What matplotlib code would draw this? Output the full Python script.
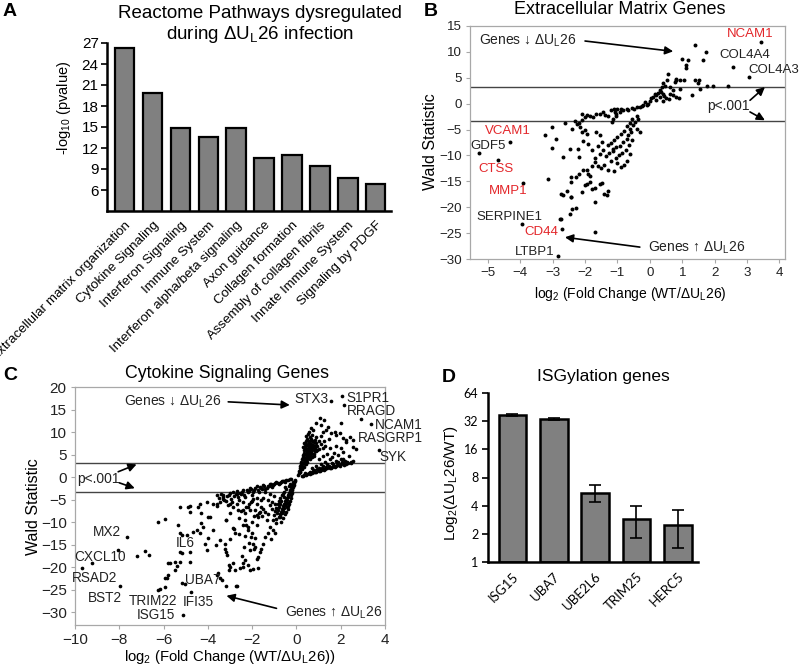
import numpy as np
import matplotlib
matplotlib.use('Agg')
import matplotlib.pyplot as plt

plt.rcParams['font.family'] = ['Liberation Sans', 'DejaVu Sans']
plt.rcParams['mathtext.default'] = 'regular'

RED = '#e3262a'
BARGREY = '#808080'
BOXGREY = '#a8a8a8'

# ---- panel A: reactome pathways
pathways = ['Extracellular matrix organization', 'Cytokine Signaling', 'Interferon Signaling',
            'Immune System', 'Interferon alpha/beta signaling', 'Axon guidance',
            'Collagen formation', 'Assembly of collagen fibrils', 'Innate Immune System',
            'Signaling by PDGF']
pathway_logp = [26.3, 19.8, 14.9, 13.6, 14.9, 10.6, 11.0, 9.5, 7.7, 6.9]

# ---- panel B: extracellular matrix genes (log2 FC, Wald statistic)
ecm_pts = [
    (3.42, 11.9), (2.57, 7.0), (3.07, 5.2), (1.39, 11.3), (1.73, 10.0), (0.98, 8.7), (1.18, 8.4), (1.65, 8.4), (1.11, 7.4), (1.10, 6.8),
    (0.57, 5.8), (0.82, 4.8), (0.80, 4.5), (0.93, 4.5), (1.05, 4.5), (1.39, 4.5), (1.51, 4.5), (1.48, 3.9), (1.75, 3.5), (1.95, 3.35),
    (2.42, 3.4), (1.54, 2.9), (1.29, 1.6), (0.62, 3.2), (0.72, 2.6), (0.93, 2.9), (0.54, 4.6), (0.79, 4.2), (0.41, 3.9), (0.46, 3.5),
    (0.36, 3.2), (0.30, 2.6), (0.35, 2.2), (0.40, 1.9), (0.45, 1.4), (0.50, 1.0), (0.25, 2.0), (0.20, 1.6), (0.15, 1.9), (0.10, 1.3),
    (0.05, 1.0), (0.30, 1.3), (0.20, 0.8), (0.40, 0.6), (0.62, 1.9), (0.72, 1.6), (0.82, 1.3), (0.90, 1.0), (0.60, 0.9), (0.00, 0.5),
    (-0.05, 0.0), (-0.15, 0.3), (-0.20, -0.3), (-0.30, -0.6), (-0.40, -0.6), (-0.50, -1.0), (-0.55, -0.8), (-0.10, -0.2), (-0.25, -0.4), (-0.72, -1.0),
    (-0.67, -1.3), (-0.82, -1.3), (-0.93, -1.6), (-1.01, -1.1), (-1.08, -1.6), (-1.03, -1.9), (-1.10, -1.0), (-1.20, -1.2), (-0.90, -1.1), (-1.18, -3.5),
    (-1.13, -2.9), (-1.65, -1.9), (-1.54, -1.9), (-1.46, -1.7), (-1.85, -2.3), (-1.75, -2.6), (-2.00, -2.6), (-2.10, -3.2), (-2.20, -3.7), (-2.08, -2.0),
    (-1.95, -2.2), (-1.37, -2.1), (-1.29, -2.3), (-1.05, -2.4), (-2.62, -3.7), (-3.03, -4.6), (-3.24, -6.1), (-2.90, -6.9), (-2.16, -4.5), (-2.00, -5.0),
    (-2.10, -5.5), (-1.95, -5.8), (-1.65, -5.5), (-1.54, -6.1), (-2.06, -7.3), (-1.90, -7.7), (-1.60, -8.1), (-1.49, -7.4), (-3.01, -8.6), (-2.47, -8.8),
    (-2.21, -8.8), (-0.62, -4.8), (-0.57, -5.5), (-0.67, -6.1), (-0.72, -6.8), (-0.82, -7.4), (-0.93, -8.1), (-1.03, -8.4), (-1.13, -8.7), (-0.41, -2.3),
    (-0.36, -2.9), (-0.46, -3.5), (-0.51, -4.2), (-0.41, -4.8), (-0.31, -5.5), (-0.55, -3.0), (-0.60, -3.8), (-0.70, -4.4), (-0.80, -5.2), (-0.90, -5.8),
    (-1.00, -6.5), (-1.10, -7.0), (-1.20, -7.6), (-1.30, -8.0), (-0.75, -9.0), (-0.85, -9.5), (-0.95, -10.0), (-1.05, -10.5), (-1.15, -9.2), (-1.25, -9.6),
    (-1.35, -10.1), (-0.65, -8.0), (-0.55, -7.0), (-0.60, -9.7), (-0.70, -11.0), (-0.80, -11.8), (-0.90, -12.2), (-1.00, -11.5), (-1.20, -11.0), (-1.40, -11.8),
    (-1.50, -12.5), (-1.60, -12.0), (-1.70, -11.3), (-1.30, -12.8), (-1.10, -13.0), (-1.45, -9.0), (-1.55, -9.8), (-1.70, -10.5), (-1.80, -9.0), (-2.67, -10.3),
    (-2.18, -10.3), (-3.14, -14.6), (-2.42, -14.2), (-2.18, -13.5), (-2.06, -12.9), (-1.95, -12.9), (-1.80, -12.0), (-1.90, -13.5), (-1.85, -13.9), (-2.00, -15.8),
    (-1.95, -15.5), (-1.85, -15.2), (-1.70, -16.2), (-1.55, -15.6), (-1.48, -15.4), (-1.30, -16.8), (-1.40, -17.4), (-1.80, -16.5), (-2.10, -17.0), (-2.67, -17.6),
    (-2.42, -18.0), (-1.68, -18.9), (-1.33, -17.7), (-2.29, -20.2), (-2.45, -21.3), (-2.76, -22.3), (-2.70, -24.3), (-1.68, -24.7), (-2.85, -29.4), (-3.96, -23.2),
    (-4.32, -7.5), (-4.68, -10.8), (-3.91, -15.3), (-5.27, -9.5), (-2.73, -17.4), (-2.55, -16.8), (-2.44, -18.1), (-2.39, -20.3), (-2.28, -14.2), (-2.42, -15.2),
    (-2.73, -22.3), (-2.30, -3.3), (-2.25, -4.0), (-2.40, -4.8),
]
ecm_names = ['NCAM1', 'COL4A4', 'COL4A3', 'VCAM1', 'GDF5', 'CTSS', 'MMP1', 'SERPINE1', 'CD44', 'LTBP1']
ecm_red = [True, False, False, True, False, True, True, False, True, False]

# ---- panel C: cytokine signaling genes
cyto_pts = [
    (1.58, 17.0), (2.08, 18.1), (2.15, 16.1), (2.93, 12.9), (3.35, 11.8), (3.73, 6.2), (2.56, 8.3), (2.70, 6.4), (2.03, 12.0),
    (0.90, 12.1), (1.05, 13.1), (1.23, 12.7), (1.13, 11.6), (1.80, 9.4), (2.10, 8.7), (2.26, 7.9), (2.40, 9.0), (1.35, 10.5), (1.58, 9.8), (1.73, 10.1),
    (1.43, 11.3), (1.95, 9.8), (2.26, 8.3), (2.56, 6.8), (2.38, 4.7), (2.10, 4.2), (2.48, 3.1),
    (0.05, 0.5), (0.10, 1.0), (0.12, 1.5), (0.15, 2.0), (0.18, 2.5), (0.20, 3.0), (0.22, 3.5), (0.25, 4.0), (0.28, 4.5), (0.30, 5.0),
    (0.32, 5.5), (0.35, 6.0), (0.38, 6.5), (0.40, 7.0), (0.42, 7.5), (0.45, 8.0), (0.50, 8.5),
    (0.15, 1.2), (0.20, 1.8), (0.25, 2.6), (0.30, 3.2), (0.35, 3.8), (0.40, 4.4), (0.45, 5.0), (0.50, 5.6), (0.55, 6.2), (0.60, 6.8),
    (0.65, 7.4), (0.70, 8.0), (0.40, 3.0), (0.45, 3.6), (0.50, 4.2), (0.55, 4.8), (0.60, 5.4), (0.65, 6.0), (0.70, 6.6), (0.75, 7.2),
    (0.80, 7.8), (0.85, 8.4), (0.50, 3.4), (0.60, 4.0), (0.70, 4.6), (0.80, 5.2), (0.90, 5.8), (1.00, 6.4), (0.55, 7.7), (0.60, 8.9),
    (0.70, 9.5), (0.90, 9.0), (1.00, 8.2), (0.95, 7.0), (1.10, 7.5), (1.20, 6.6), (0.85, 6.5), (0.30, 6.8), (0.35, 7.6), (0.45, 9.2),
    (0.55, 10.0), (0.75, 10.5), (0.65, 11.0),
    (0.22, 2.2), (0.28, 3.3), (0.33, 4.2), (0.38, 5.2), (0.43, 6.2), (0.48, 7.2), (0.52, 6.6), (0.58, 7.3), (0.62, 5.9), (0.68, 6.3),
    (0.72, 7.0), (0.78, 6.1), (0.82, 6.9), (0.88, 7.6), (0.92, 6.2), (0.48, 4.6), (0.53, 5.3), (0.58, 4.4), (0.63, 5.0), (0.68, 5.6),
    (0.73, 5.1), (0.78, 4.8), (0.83, 5.8), (0.38, 3.4), (0.43, 2.9), (0.32, 2.4), (0.27, 1.8), (0.18, 1.1), (0.57, 8.2), (0.66, 8.6),
    (0.76, 8.1), (0.52, 9.6),
    (0.30, 0.4), (0.50, 0.7), (0.70, 1.0), (0.90, 1.3), (1.10, 1.6), (1.30, 1.9), (1.50, 2.2), (1.70, 2.5), (1.90, 2.8), (2.10, 3.1),
    (2.30, 3.4), (0.40, 0.9), (0.60, 1.3), (0.80, 1.7), (1.00, 2.1), (1.20, 2.5), (1.40, 2.9), (1.60, 3.3), (1.80, 3.7), (2.00, 4.1),
    (0.60, 0.8), (0.80, 1.2), (1.00, 1.5), (1.20, 1.8), (1.40, 2.0), (1.60, 2.4), (1.80, 2.6), (2.00, 3.0),
    (0.25, 0.3), (0.35, 0.55), (0.45, 0.6), (0.55, 1.0), (0.65, 0.95), (0.75, 1.4), (0.85, 1.15), (0.95, 1.8), (1.05, 1.35), (1.15, 2.2),
    (1.25, 1.7), (1.35, 2.4), (1.45, 2.6), (1.55, 2.05), (1.65, 2.9), (1.75, 2.3), (1.85, 3.2), (1.95, 2.55), (2.05, 3.5), (2.15, 2.85),
    (2.25, 3.0), (2.35, 3.25), (2.45, 3.45), (2.55, 3.6), (2.20, 3.7), (1.90, 3.4),
    (0.70, 2.0), (0.90, 2.5), (1.10, 3.0), (1.30, 3.5), (1.50, 4.0), (1.00, 4.2), (1.20, 4.8), (1.40, 5.2), (1.60, 4.6), (1.70, 5.5),
    (1.90, 5.0), (2.10, 5.6), (1.50, 6.5), (1.30, 7.0), (1.80, 7.0), (2.00, 6.5), (1.25, 8.0), (1.45, 8.5), (1.10, 9.2), (1.20, 10.0),
    (-0.30, -0.35), (-0.60, -0.70), (-0.90, -1.00), (-1.20, -1.35), (-1.50, -1.70), (-1.80, -2.00), (-2.10, -2.40), (-2.40, -2.70),
    (-2.70, -3.10), (-3.00, -3.40), (-3.30, -3.80),
    (-0.40, -0.60), (-0.70, -1.05), (-1.00, -1.50), (-1.30, -1.95), (-1.60, -2.40), (-1.90, -2.85), (-2.20, -3.30), (-2.50, -3.75), (-2.80, -4.20),
    (-0.50, -0.95), (-0.80, -1.50), (-1.10, -2.10), (-1.40, -2.65), (-1.70, -3.20), (-2.00, -3.80), (-2.30, -4.40), (-2.60, -5.00), (-2.90, -5.50),
    (-0.25, -0.4), (-0.45, -0.65), (-0.55, -0.85), (-0.65, -0.9), (-0.75, -1.2), (-0.85, -1.3), (-0.95, -1.25), (-1.05, -1.7), (-1.15, -1.45),
    (-1.25, -1.8), (-1.35, -2.3), (-1.45, -1.9), (-1.55, -2.6), (-1.65, -2.1), (-1.75, -2.75), (-1.85, -2.35), (-1.95, -3.3), (-2.05, -2.6),
    (-2.15, -3.0), (-2.25, -2.8), (-2.35, -3.9), (-2.45, -3.2), (-2.55, -3.4), (-2.65, -4.4), (-2.75, -3.6), (-2.85, -3.3), (-2.95, -4.7),
    (-3.05, -3.8), (-3.15, -4.2), (-3.40, -3.6), (-3.60, -4.0), (-3.20, -5.3),
    (-3.50, -4.5), (-3.60, -5.8), (-3.30, -4.9), (-3.10, -6.2), (-2.70, -6.0), (-2.40, -5.5), (-2.20, -6.5), (-2.00, -5.2), (-1.80, -4.5), (-1.60, -5.0),
    (-2.50, -7.5), (-2.30, -8.0), (-2.10, -7.2), (-1.90, -8.5), (-2.60, -9.0), (-2.00, -9.8), (-1.80, -10.5), (-2.40, -10.6), (-2.20, -11.0), (-3.00, -8.0),
    (-3.20, -9.5), (-2.80, -11.5), (-2.60, -12.5), (-2.30, -13.0), (-2.00, -12.3), (-1.85, -13.5), (-2.15, -14.5), (-2.35, -15.5), (-1.90, -16.0), (-2.45, -17.5),
    (-2.33, -18.4),
    (-0.05, -0.5), (-0.10, -1.0), (-0.12, -1.6), (-0.15, -2.2), (-0.18, -2.8), (-0.20, -3.4), (-0.23, -4.0), (-0.26, -4.6), (-0.30, -5.2), (-0.33, -5.8),
    (-0.36, -6.4), (-0.40, -7.0), (-0.45, -7.6), (-0.50, -8.2),
    (-0.15, -1.0), (-0.20, -1.6), (-0.25, -2.2), (-0.30, -2.8), (-0.35, -3.4), (-0.40, -4.0), (-0.45, -4.6), (-0.50, -5.2), (-0.55, -5.8), (-0.60, -6.4),
    (-0.65, -7.0), (-0.70, -7.6), (-0.75, -8.2), (-0.80, -8.8),
    (-0.08, -0.8), (-0.13, -1.3), (-0.17, -1.9), (-0.22, -2.5), (-0.27, -3.1), (-0.32, -3.7), (-0.38, -4.3), (-0.42, -5.0), (-0.47, -5.6), (-0.52, -6.2),
    (-0.57, -6.8), (-0.62, -7.4), (-0.67, -8.0), (-0.72, -8.6), (-0.38, -5.6), (-0.44, -6.6), (-0.58, -4.4), (-0.62, -3.6), (-0.68, -5.2), (-0.72, -5.9),
    (-0.78, -6.6), (-0.83, -7.2), (-0.88, -8.0), (-0.50, -2.2),
    (-0.30, -1.5), (-0.35, -2.0), (-0.45, -2.6), (-0.55, -3.3), (-0.65, -4.0), (-0.75, -4.6), (-0.80, -5.3), (-0.85, -6.0), (-0.90, -6.8), (-0.95, -7.5),
    (-1.00, -8.3), (-0.90, -9.2), (-0.60, -9.0), (-0.70, -9.8), (-1.05, -9.5),
    (-1.35, -9.5), (-1.20, -11.0), (-1.28, -12.4), (-1.43, -13.2), (-1.50, -14.7), (-1.58, -15.8), (-1.65, -16.5), (-1.73, -17.6), (-1.80, -18.2),
    (-1.05, -11.7), (-0.90, -10.2), (-0.75, -8.7), (-1.13, -13.6), (-0.98, -12.4), (-1.95, -14.7), (-2.03, -13.2), (-2.18, -11.7), (-2.26, -10.6),
    (-2.33, -9.5), (-2.10, -16.1), (-1.88, -15.4),
    (-1.80, -6.0), (-1.60, -6.5), (-1.50, -7.0), (-1.40, -7.6), (-1.30, -8.2), (-1.70, -7.8), (-1.55, -8.6), (-1.20, -6.2), (-1.10, -5.5), (-1.30, -5.0),
    (-1.50, -4.5), (-1.00, -4.2), (-1.20, -3.6), (-1.40, -3.3), (-1.10, -7.0), (-0.95, -6.0),
    (-7.64, -13.3), (-7.22, -17.5), (-6.84, -16.4), (-6.65, -17.3), (-8.05, -16.1), (-9.25, -19.1), (-9.70, -20.2), (-7.97, -24.1),
    (-6.24, -9.9), (-5.94, -9.3), (-5.34, -10.6), (-4.81, -7.6), (-4.89, -6.5), (-4.44, -6.5), (-4.06, -5.4), (-4.29, -8.0), (-3.91, -8.7), (-4.29, -10.2),
    (-5.26, -12.4), (-4.96, -12.8), (-4.36, -12.4), (-4.00, -13.4), (-4.14, -14.9), (-4.06, -16.2),
    (-3.23, -14.7), (-3.23, -15.8), (-3.16, -16.5), (-3.13, -17.3), (-3.04, -19.5), (-3.04, -20.6),
    (-5.79, -19.1), (-5.49, -18.7), (-5.26, -18.7), (-5.41, -19.7), (-5.79, -21.6), (-5.94, -22.4), (-5.19, -23.4), (-5.04, -23.6), (-4.74, -25.4),
    (-6.17, -24.7), (-5.94, -24.4), (-5.14, -30.6),
    (-3.58, -21.7), (-3.38, -22.8), (-3.16, -24.1), (-2.71, -24.1),
    (-2.56, -20.2), (-2.41, -19.9), (-2.11, -20.6), (-1.95, -20.4), (-1.73, -20.2),
    (-5.26, -6.5), (-4.81, -6.4), (-4.36, -5.8), (-3.30, -4.3), (-3.28, -5.0), (-3.00, -5.8), (-2.70, -3.6),
    (-3.98, -8.7), (-4.21, -11.0), (-3.76, -11.7), (-3.16, -9.5), (-2.86, -11.3), (-2.78, -12.4), (-3.00, -13.6), (-3.61, -15.0), (-3.46, -13.9),
    (-2.86, -19.1), (-3.00, -20.0), (-2.78, -20.6), (-2.40, -19.1), (-2.18, -19.5),
    (-5.19, -12.8), (-4.66, -12.1), (-4.51, -11.7), (-5.26, -16.5), (-5.19, -16.7), (-4.81, -16.5), (-4.81, -18.7), (-5.71, -19.1), (-5.49, -20.6),
    (-5.86, -22.4), (-6.24, -25.0), (-3.53, -21.3), (-3.46, -22.4), (-2.68, -24.1),
    (-3.76, -5.8), (-3.60, -6.3), (-3.46, -5.4), (-2.86, -6.5), (-2.63, -7.3), (-2.41, -7.3), (-2.26, -6.5), (-2.14, -5.9), (-2.03, -5.4),
    (-1.95, -4.7), (-1.88, -7.3), (-1.80, -8.4), (-1.73, -8.8), (-1.65, -7.7),
]
cyto_names = ['STX3', 'S1PR1', 'RRAGD', 'NCAM1', 'RASGRP1', 'SYK', 'MX2', 'IL6', 'CXCL10',
              'RSAD2', 'UBA7', 'BST2', 'TRIM22', 'IFI35', 'ISG15']

# ---- panel D: ISGylation genes
isg_genes = ['ISG15', 'UBA7', 'UBE2L6', 'TRIM25', 'HERC5']
isg_fold = [37.0, 33.5, 5.5, 2.9, 2.5]
isg_low = [36.0, 32.7, 4.4, 1.8, 1.4]
isg_high = [38.0, 34.3, 6.6, 3.95, 3.6]


def fx(px):
    return px / 800.0


def fy(py):
    return 1 - py / 668.0


fig = plt.figure(figsize=(8, 6.68), dpi=100)

# ================= A
axA = fig.add_axes([fx(107), fy(211), 284 / 800, 168 / 668])
axA.bar(range(len(pathways)), pathway_logp, width=0.7, color=BARGREY, edgecolor='black', linewidth=1.6)
axA.set_xlim(-0.63, 9.55)
axA.set_ylim(3, 27)
axA.set_yticks(range(6, 28, 3))
axA.set_xticks(range(len(pathways)))
axA.set_xticklabels(pathways, rotation=45, ha='right', rotation_mode='anchor', fontsize=9.6)
axA.tick_params(axis='x', length=0, pad=6)
axA.tick_params(axis='y', length=4, width=1.2, labelsize=11, pad=2)
for s in ['top', 'right']:
    axA.spines[s].set_visible(False)
for s in ['left', 'bottom']:
    axA.spines[s].set_linewidth(1.8)
fig.text(fx(260), fy(25), 'Reactome Pathways dysregulated\nduring ΔU$_L$26 infection',
         ha='center', va='center', fontsize=13.5, linespacing=1.1)
fig.text(fx(64), fy(108), '-log$_{10}$ (pvalue)', rotation=90, ha='center', va='center', fontsize=10.5)
fig.text(fx(3), fy(12), 'A', fontsize=14, fontweight='bold', ha='left', va='center')

# ================= B
axB = fig.add_axes([fx(470), fy(259), 315 / 800, 233 / 668])
bx, by = np.array(ecm_pts).T
axB.scatter(bx, by, s=8, c='black', linewidths=0, zorder=3)
axB.set_xlim(-5.55, 4.17)
axB.set_ylim(-30, 15)
axB.set_xticks(range(-5, 5))
axB.set_yticks(range(-30, 16, 5))
axB.axhline(3.3, color='#444444', lw=1.0)
axB.axhline(-3.3, color='#444444', lw=1.0)
for s in axB.spines.values():
    s.set_color(BOXGREY)
    s.set_linewidth(0.9)
axB.tick_params(length=3, color=BOXGREY, labelsize=9.6, labelcolor='#222222', pad=3)

b_label_pos = [(3.09, 13.4), (2.93, 9.4), (3.81, 6.5), (-4.37, -5.2), (-4.99, -8.1),
               (-4.75, -12.6), (-4.37, -16.8), (-4.32, -21.9), (-3.34, -24.8), (-3.55, -28.6)]
for name, (lx, ly), red in zip(ecm_names, b_label_pos, ecm_red):
    axB.text(lx, ly, name, ha='center', va='center', fontsize=9.5,
             color=RED if red else '#222222')

arrow = dict(arrowstyle='-|>', color='black', lw=1.2, mutation_scale=12, shrinkA=0, shrinkB=0)
axB.text(-2.26, 12.1, 'Genes ↓ ΔU$_L$26', ha='right', va='center', fontsize=10, color='#222222')
axB.annotate('', xy=(0.72, 10.1), xytext=(-2.0, 12.1), arrowprops=arrow)
axB.text(-0.05, -27.9, 'Genes ↑ ΔU$_L$26', ha='left', va='center', fontsize=10, color='#222222')
axB.annotate('', xy=(-2.62, -25.8), xytext=(-0.31, -27.7), arrowprops=arrow)
axB.text(2.42, -0.45, 'p<.001', ha='center', va='center', fontsize=10, color='#222222')
axB.annotate('', xy=(3.55, 3.2), xytext=(3.09, 0.65), arrowprops=arrow)
axB.annotate('', xy=(3.55, -3.2), xytext=(3.09, -1.6), arrowprops=arrow)

fig.text(fx(620), fy(10), 'Extracellular Matrix Genes', ha='center', va='center', fontsize=13)
fig.text(fx(431), fy(142), 'Wald Statistic', rotation=90, ha='center', va='center', fontsize=11.5)
fig.text(fx(630), fy(294), 'log$_2$ (Fold Change (WT/ΔU$_L$26)', ha='center', va='center', fontsize=10)
fig.text(fx(424), fy(11), 'B', fontsize=14, fontweight='bold', ha='left', va='center')

# ================= C
axC = fig.add_axes([fx(75), fy(625), 310 / 800, 238 / 668])
cx, cy = np.array(cyto_pts).T
axC.scatter(cx, cy, s=7, c='black', linewidths=0, zorder=3)
axC.set_xlim(-10, 4)
axC.set_ylim(-32.8, 20.1)
axC.set_xticks(range(-10, 5, 2))
axC.set_yticks(range(-30, 21, 5))
axC.axhline(3.3, color='#444444', lw=1.0)
axC.axhline(-3.3, color='#444444', lw=1.0)
for s in axC.spines.values():
    s.set_color(BOXGREY)
    s.set_linewidth(0.9)
axC.tick_params(length=3, color=BOXGREY, labelsize=11, labelcolor='#222222', pad=3)

c_label_pos = [(1.43, 17.5, 'right'), (2.26, 17.6, 'left'), (2.30, 14.7, 'left'), (3.53, 11.6, 'left'),
               (2.78, 8.7, 'left'), (3.76, 4.6, 'left'), (-8.54, -12.2, 'center'), (-5.0, -14.5, 'center'),
               (-8.87, -17.6, 'center'), (-9.1, -22.4, 'center'), (-4.21, -22.7, 'center'),
               (-8.65, -26.7, 'center'), (-6.47, -27.4, 'center'), (-4.41, -27.6, 'center'),
               (-6.36, -30.5, 'center')]
for name, (lx, ly, ha) in zip(cyto_names, c_label_pos):
    axC.text(lx, ly, name, ha=ha, va='center', fontsize=9.8, color='#222222')

axC.text(-3.38, 16.8, 'Genes ↓ ΔU$_L$26', ha='right', va='center', fontsize=10, color='#222222')
axC.annotate('', xy=(-0.3, 16.1), xytext=(-3.08, 16.8), arrowprops=arrow)
axC.text(-0.53, -30.1, 'Genes ↑ ΔU$_L$26', ha='left', va='center', fontsize=10, color='#222222')
axC.annotate('', xy=(-3.16, -26.3), xytext=(-0.9, -29.1), arrowprops=arrow)
axC.text(-8.95, -0.4, 'p<.001', ha='center', va='center', fontsize=10, color='#222222')
axC.annotate('', xy=(-7.22, 2.9), xytext=(-8.05, 1.26), arrowprops=arrow)
axC.annotate('', xy=(-7.3, -2.4), xytext=(-8.0, -1.2), arrowprops=arrow)

fig.text(fx(227), fy(373), 'Cytokine Signaling Genes', ha='center', va='center', fontsize=12.8)
fig.text(fx(34), fy(507), 'Wald Statistic', rotation=90, ha='center', va='center', fontsize=11.5)
fig.text(fx(230), fy(657), 'log$_2$ (Fold Change (WT/ΔU$_L$26))', ha='center', va='center', fontsize=10.7)
fig.text(fx(3), fy(375), 'C', fontsize=14, fontweight='bold', ha='left', va='center')

# ================= D
axD = fig.add_axes([fx(488), fy(562), 210 / 800, 169 / 668])
xd = np.arange(len(isg_genes))
fold = np.array(isg_fold)
err = [fold - np.array(isg_low), np.array(isg_high) - fold]
axD.bar(xd, fold - 1, bottom=1, width=0.67, color=BARGREY, edgecolor='black', linewidth=1.8)
axD.errorbar(xd, fold, yerr=err, fmt='none', ecolor='black', elinewidth=1.2, capsize=4, capthick=1.2)
axD.set_yscale('log', base=2)
axD.set_ylim(1, 64)
axD.set_xlim(-0.59, 4.49)
ticks = [1, 2, 4, 8, 16, 32, 64]
axD.set_yticks(ticks)
axD.set_yticklabels([str(t) for t in ticks], fontfamily='Lato', fontsize=9)
axD.minorticks_off()
axD.set_xticks(xd)
axD.set_xticklabels(isg_genes, rotation=45, ha='right', rotation_mode='anchor', fontfamily='Lato', fontsize=9.5)
axD.tick_params(axis='x', length=0, pad=6)
axD.tick_params(axis='y', length=4, width=1.2, pad=3)
for s in ['top', 'right']:
    axD.spines[s].set_visible(False)
for s in ['left', 'bottom']:
    axD.spines[s].set_linewidth(1.8)
fig.text(fx(603), fy(377), 'ISGylation genes', ha='center', va='center', fontsize=12.5)
fig.text(fx(451), fy(483), 'Log$_2$(ΔU$_L$26/WT)', rotation=90, ha='center', va='center', fontsize=11)
fig.text(fx(442), fy(377), 'D', fontsize=14, fontweight='bold', ha='left', va='center')

fig.savefig('out.png', dpi=100)
